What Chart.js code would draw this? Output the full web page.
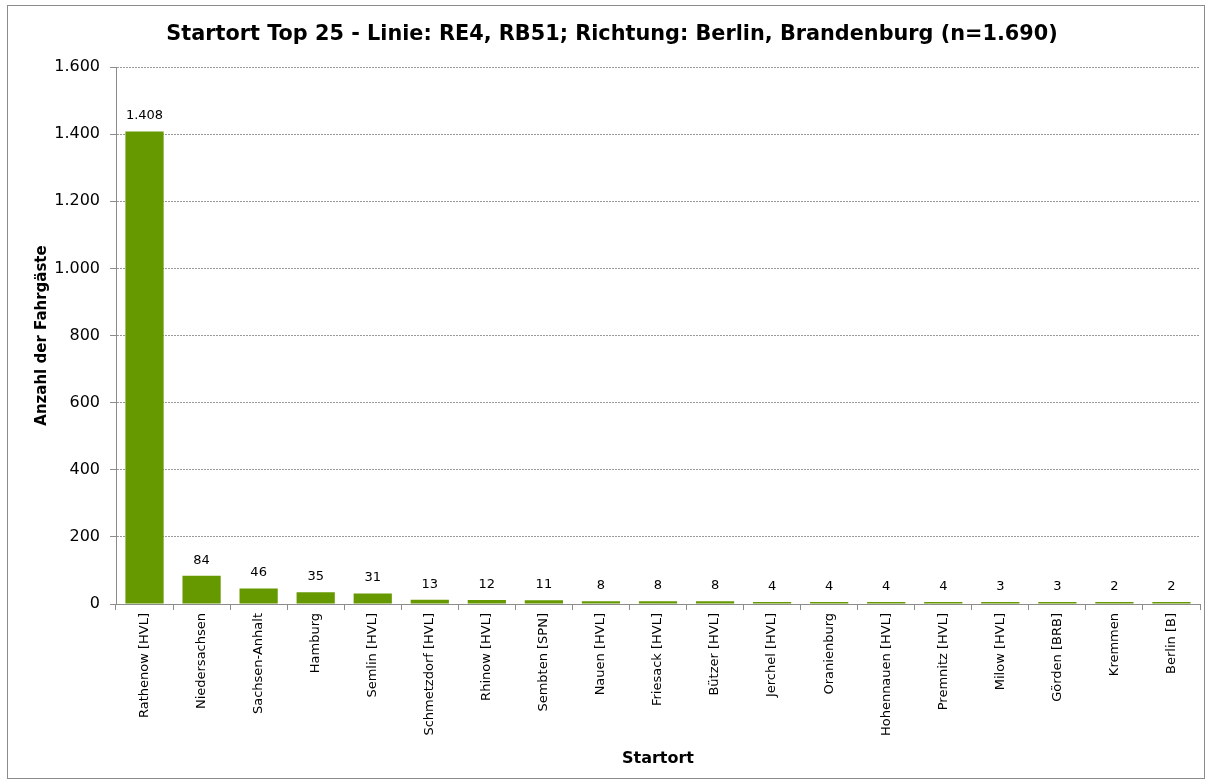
<!DOCTYPE html>
<html>
<head>
<meta charset="utf-8">
<script src="https://cdn.jsdelivr.net/npm/chart.js@4"></script>
<style>
  html, body { margin: 0; padding: 0; background: #fff; }
  #wrap { width: 1208px; height: 782px; position: relative; }
</style>
</head>
<body>
<div id="wrap"><canvas id="startortChart" width="1208" height="782"></canvas></div>
<script>
const chartTitle = 'Startort Top 25 - Linie: RE4, RB51; Richtung: Berlin, Brandenburg (n=1.690)';
const startorte = [
    'Rathenow [HVL]', 'Niedersachsen', 'Sachsen-Anhalt', 'Hamburg', 'Semlin [HVL]',
    'Schmetzdorf [HVL]', 'Rhinow [HVL]', 'Sembten [SPN]', 'Nauen [HVL]', 'Friesack [HVL]',
    'Bützer [HVL]', 'Jerchel [HVL]', 'Oranienburg', 'Hohennauen [HVL]', 'Premnitz [HVL]',
    'Milow [HVL]', 'Görden [BRB]', 'Kremmen', 'Berlin [B]'
];
const fahrgaeste = [1408, 84, 46, 35, 31, 13, 12, 11, 8, 8, 8, 4, 4, 4, 4, 3, 3, 2, 2];

// German thousands separator
function fmt(v) {
    return String(v).replace(/\B(?=(\d{3})+(?!\d))/g, '.');
}

const fontFamily = '"DejaVu Sans", Verdana, sans-serif';

// frame, title and value labels
const extras = {
    id: 'extras',
    beforeDraw(chart) {
        const ctx = chart.ctx;
        ctx.save();
        ctx.strokeStyle = '#8c8c8c';
        ctx.lineWidth = 1;
        ctx.strokeRect(7.5, 5.5, 1197, 773);
        ctx.restore();
    },
    afterDatasetsDraw(chart) {
        const ctx = chart.ctx;
        ctx.save();
        ctx.font = 'bold 20.8px ' + fontFamily;
        ctx.fillStyle = '#000';
        ctx.textAlign = 'center';
        ctx.textBaseline = 'middle';
        ctx.fillText(chartTitle, 612, 35);

        ctx.font = '13px ' + fontFamily;
        ctx.textBaseline = 'bottom';
        const meta = chart.getDatasetMeta(0);
        meta.data.forEach((bar, i) => {
            ctx.fillText(fmt(fahrgaeste[i]), bar.x, bar.y - 9);
        });
        ctx.restore();
    }
};

new Chart(document.getElementById('startortChart').getContext('2d'), {
    type: 'bar',
    data: {
        labels: startorte,
        datasets: [{
            label: 'Anzahl der Fahrgäste',
            data: fahrgaeste,
            backgroundColor: '#669900',
            borderWidth: 0,
            minBarLength: 2,
            barPercentage: 0.67,
            categoryPercentage: 1.0
        }]
    },
    options: {
        responsive: false,
        animation: false,
        layout: { padding: { top: 67, right: 8, bottom: 0, left: 0 } },
        plugins: {
            legend: { display: false },
            title: { display: false },
            tooltip: { enabled: false }
        },
        scales: {
            x: {
                afterFit(scale) { scale.height = 178; },
                grid: {
                    offset: true,
                    drawOnChartArea: false,
                    drawTicks: true,
                    tickLength: 6,
                    color: '#8c8c8c'
                },
                border: { color: '#8c8c8c' },
                ticks: {
                    minRotation: 90,
                    maxRotation: 90,
                    autoSkip: false,
                    color: '#000',
                    font: { family: fontFamily, size: 13 }
                },
                title: {
                    display: true,
                    text: 'Startort',
                    color: '#000',
                    font: { family: fontFamily, size: 16, weight: 'bold' },
                    padding: { top: 4, bottom: 14 }
                }
            },
            y: {
                min: 0,
                max: 1600,
                afterFit(scale) { scale.width = 116; },
                grid: {
                    color: '#999999',
                    tickBorderDash: [],
                    tickLength: 6,
                    tickColor: '#8c8c8c'
                },
                border: { color: '#8c8c8c', dash: [2, 1] },
                ticks: {
                    stepSize: 200,
                    color: '#000',
                    padding: 10,
                    font: { family: fontFamily, size: 16 },
                    callback: v => fmt(v)
                },
                title: {
                    display: true,
                    text: 'Anzahl der Fahrgäste',
                    color: '#000',
                    font: { family: fontFamily, size: 15, weight: 'bold' },
                    padding: { top: 33, bottom: 0 }
                }
            }
        }
    },
    plugins: [extras]
});
</script>
</body>
</html>
